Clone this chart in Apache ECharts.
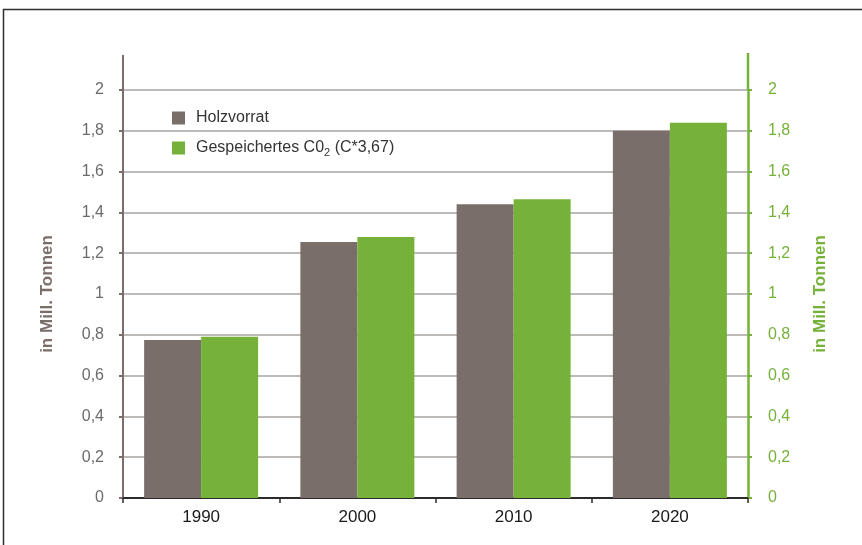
<!DOCTYPE html>
<html>
<head>
<meta charset="utf-8">
<script src="https://cdn.jsdelivr.net/npm/echarts@6/dist/echarts.min.js"></script>
<style>
html,body{margin:0;padding:0;background:#fff;}
#chart{width:862px;height:545px;}
</style>
</head>
<body>
<div id="chart"></div>
<script>
// Jahre und Werte (in Mill. Tonnen)
const years = ['1990', '2000', '2010', '2020'];
const holzvorrat = [0.775, 1.255, 1.44, 1.80];
const co2 = [0.79, 1.28, 1.465, 1.84];
const yTicks = [0, 0.2, 0.4, 0.6, 0.8, 1, 1.2, 1.4, 1.6, 1.8, 2];

const GRAY = '#7a6e6b';
const GREEN = '#76b13a';
const FONT = 'Liberation Sans, Arial, sans-serif';

const fmt = v => String(parseFloat(Number(v).toFixed(1))).replace('.', ',');

const chart = echarts.init(document.getElementById('chart'), null, {renderer: 'canvas'});

const axisBase = {
  type: 'value',
  min: yTicks[0],
  max: yTicks[yTicks.length - 1],
  interval: 0.2,
  nameLocation: 'middle',
  nameRotate: 90,
  nameTextStyle: {fontFamily: FONT, fontSize: 17, fontWeight: 'bold'}
};

const legendText = {fontFamily: FONT, fontSize: 16, color: '#333'};

chart.setOption({
  animation: false,
  textStyle: {fontFamily: FONT},
  grid: {left: 123, right: 114, top: 90, bottom: 47, containLabel: false},
  legend: {
    orient: 'vertical',
    left: 167,
    top: 105,
    itemWidth: 13,
    itemHeight: 13,
    itemGap: 14,
    icon: 'rect',
    textStyle: {
      fontFamily: FONT, fontSize: 16, color: '#333',
      rich: {
        pad: {width: 6},
        n: legendText,
        sub: {fontFamily: FONT, fontSize: 11, color: '#333', verticalAlign: 'bottom', padding: [9, 0, 0, 0]}
      }
    },
    formatter: name => name === 'Gespeichertes C02'
      ? '{pad|}{n|Gespeichertes C0}{sub|2}{n| (C*3,67)}'
      : '{pad|}{n|' + name + '}',
    data: ['Holzvorrat', 'Gespeichertes C02']
  },
  xAxis: {
    type: 'category',
    data: years,
    axisLine: {lineStyle: {color: '#2b2b2b', width: 2}},
    axisTick: {show: true, length: 5, lineStyle: {color: '#2b2b2b', width: 1.5}},
    axisLabel: {color: '#1a1a1a', fontSize: 17, margin: 11, fontFamily: FONT}
  },
  yAxis: [
    Object.assign({}, axisBase, {
      position: 'left',
      name: 'in Mill. Tonnen',
      nameGap: 67,
      nameTextStyle: Object.assign({}, axisBase.nameTextStyle, {color: GRAY}),
      axisLine: {show: true, lineStyle: {color: GRAY, width: 2}},
      axisTick: {show: true, length: 4, lineStyle: {color: GRAY, width: 2}},
      axisLabel: {color: '#6b6b6b', fontSize: 16, margin: 19, formatter: fmt, fontFamily: FONT},
      splitLine: {show: true, lineStyle: {color: '#a9a3a1', width: 1.5}}
    }),
    Object.assign({}, axisBase, {
      position: 'right',
      name: 'in Mill. Tonnen',
      nameGap: 64,
      nameTextStyle: Object.assign({}, axisBase.nameTextStyle, {color: GREEN}),
      axisLine: {show: true, lineStyle: {color: GREEN, width: 2.5}},
      axisTick: {show: true, length: 4, lineStyle: {color: GREEN, width: 2}},
      axisLabel: {color: GREEN, fontSize: 16, margin: 20, formatter: fmt, fontFamily: FONT},
      splitLine: {show: false}
    })
  ],
  series: [
    {
      name: 'Holzvorrat',
      type: 'bar',
      data: holzvorrat,
      yAxisIndex: 0,
      barWidth: 57,
      barGap: '0%',
      itemStyle: {color: GRAY}
    },
    {
      name: 'Gespeichertes C02',
      type: 'bar',
      data: co2,
      yAxisIndex: 0,
      barWidth: 57,
      barGap: '0%',
      itemStyle: {color: GREEN}
    }
  ],
  graphic: [
    // Rahmen um die Grafik
    {type: 'rect', silent: true, shape: {x: 3.5, y: 9.5, width: 900, height: 600},
     style: {fill: 'none', stroke: '#2e2e2e', lineWidth: 1.5}, z: -1},
    // Achsen nach oben verlängert
    {type: 'line', silent: true, shape: {x1: 123, y1: 55, x2: 123, y2: 90},
     style: {stroke: GRAY, lineWidth: 2}},
    {type: 'line', silent: true, shape: {x1: 748, y1: 53, x2: 748, y2: 90},
     style: {stroke: GREEN, lineWidth: 2.5}}
  ]
});
</script>
</body>
</html>
